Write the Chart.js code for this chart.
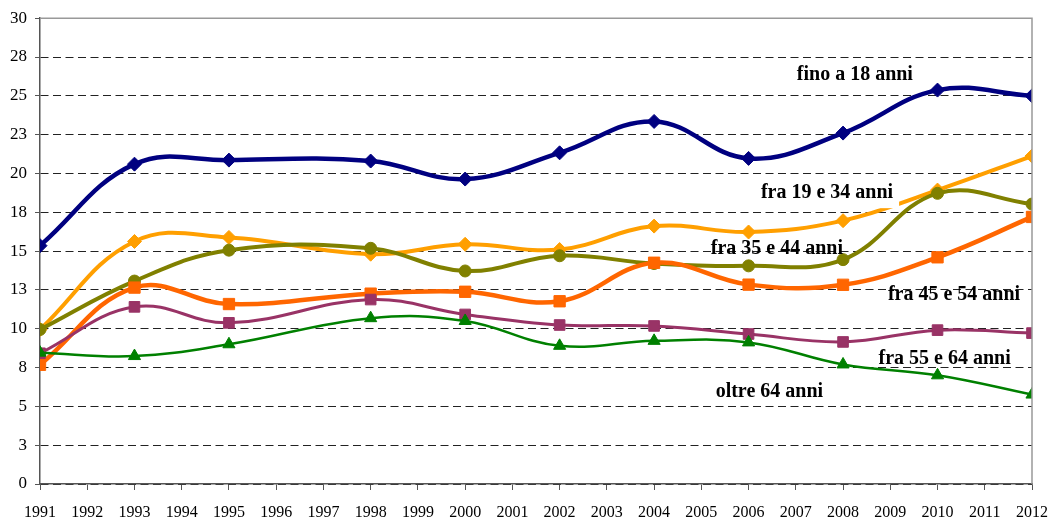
<!DOCTYPE html>
<html>
<head>
<meta charset="utf-8">
<script src="https://cdn.jsdelivr.net/npm/chart.js@4/dist/chart.umd.min.js"></script>
<style>
  html, body { margin: 0; padding: 0; background: #fff; }
  canvas { display: block; }
</style>
</head>
<body>
<canvas id="c" width="1049" height="519"></canvas>
<script>
// ---- data ----
const years = [1991, 1993, 1995, 1998, 2000, 2002, 2004, 2006, 2008, 2010, 2012];
const fino18   = [15.35, 20.6, 20.86, 20.8, 19.64, 21.33, 23.35, 20.97, 22.6, 25.37, 25.0];
const fra19_34 = [9.95, 15.62, 15.88, 14.8, 15.44, 15.1, 16.61, 16.23, 16.96, 18.93, 21.12];
const fra35_44 = [9.95, 13.07, 15.06, 15.18, 13.72, 14.7, 14.2, 14.05, 14.45, 18.72, 18.03];
const fra45_54 = [7.68, 12.65, 11.59, 12.26, 12.38, 11.77, 14.25, 12.84, 12.83, 14.6, 17.2];
const fra55_64 = [8.42, 11.41, 10.38, 11.88, 10.92, 10.24, 10.18, 9.66, 9.15, 9.91, 9.72];
const oltre64  = [8.46, 8.24, 9.0, 10.68, 10.5, 8.9, 9.22, 9.12, 7.7, 7.0, 5.76];

const seriesNames = ["fino a 18 anni", "fra 19 e 34 anni", "fra 35 e 44 anni",
                     "fra 45 e 54 anni", "fra 55 e 64 anni", "oltre 64 anni"];
// label anchor positions in data units (year, value)
const labelYears  = [2008.25, 2007.66, 2006.6, 2010.35, 2010.15, 2006.44];
const labelValues = [26.33, 18.73, 15.13, 12.17, 8.05, 5.92];
const labelWhiteBox = [false, true, false, false, false, false];

const yMin = 0, yMax = 30, yStep = 2.5;
const xMin = 1991, xMax = 2012;

// ---- styles ----
const styles = [
  { color: '#000080', width: 4.5, point: 'rectRot', radius: 7 },
  { color: '#FF9F00', width: 4,   point: 'rectRot', radius: 7 },
  { color: '#808000', width: 4,   point: 'circle',  radius: 6 },
  { color: '#FF6600', width: 4.5, point: 'rect',    radius: 8 },
  { color: '#993366', width: 3,   point: 'rect',    radius: 7.5 },
  { color: '#008000', width: 2.5, point: 'triangle',radius: 7 }
];
const allValues = [fino18, fra19_34, fra35_44, fra45_54, fra55_64, oltre64];

const datasets = allValues.map((vals, i) => ({
  label: seriesNames[i],
  data: years.map((x, j) => ({ x: x, y: vals[j] })),
  borderColor: styles[i].color,
  backgroundColor: styles[i].color,
  pointBackgroundColor: styles[i].color,
  pointBorderColor: styles[i].color,
  pointBorderWidth: 1,
  borderWidth: styles[i].width,
  pointStyle: styles[i].point,
  pointRadius: styles[i].radius,
  tension: 0.4,
  fill: false
})).reverse();

const SERIF = '"Liberation Serif", "Times New Roman", "DejaVu Serif", serif';

const overlay = {
  id: 'overlay',
  afterDatasetsDraw(chart) {
    const ctx = chart.ctx;
    const xs = chart.scales.x, ys = chart.scales.y;
    ctx.save();
    ctx.font = 'bold 20px ' + SERIF;
    ctx.textAlign = 'center';
    ctx.textBaseline = 'middle';
    seriesNames.forEach((name, i) => {
      const px = xs.getPixelForValue(labelYears[i]);
      const py = ys.getPixelForValue(labelValues[i]);
      if (labelWhiteBox[i]) {
        const w = ctx.measureText(name).width + 12;
        ctx.fillStyle = '#fff';
        ctx.fillRect(px - w / 2, py - 13, w, 28);
      }
      ctx.fillStyle = '#000';
      ctx.fillText(name, px, py);
    });
    ctx.restore();
  },
  afterDraw(chart) {
    const ctx = chart.ctx;
    const a = chart.chartArea;
    ctx.save();
    ctx.strokeStyle = '#999';
    ctx.lineWidth = 1.5;
    ctx.beginPath();
    ctx.moveTo(a.left, a.top);
    ctx.lineTo(a.right, a.top);
    ctx.lineTo(a.right, a.bottom);
    ctx.stroke();
    ctx.restore();
  }
};

new Chart(document.getElementById('c'), {
  type: 'line',
  data: { datasets: datasets },
  plugins: [overlay],
  options: {
    responsive: false,
    animation: false,
    layout: { padding: { top: 18, right: 17, left: 0, bottom: 0 } },
    plugins: { legend: { display: false }, tooltip: { enabled: false } },
    scales: {
      x: {
        type: 'linear',
        min: xMin, max: xMax,
        afterFit: s => { s.height = 35; s.paddingLeft = 0; s.paddingRight = 0; },
        ticks: {
          stepSize: 1, autoSkip: false, maxRotation: 0, padding: 13,
          color: '#000',
          font: { family: SERIF, size: 16 },
          callback: v => String(v)
        },
        grid: { drawOnChartArea: false, drawTicks: true, tickLength: 6, color: '#555', lineWidth: 1 },
        border: { color: '#555', width: 1.5 }
      },
      y: {
        min: yMin, max: yMax,
        afterFit: s => { s.width = 40; },
        ticks: {
          stepSize: yStep, padding: 8, color: '#000',
          font: { family: SERIF, size: 17 },
          callback: v => String(Math.round(v))
        },
        grid: { color: '#222', lineWidth: 1, tickLength: 5, tickColor: '#555', tickBorderDash: [] },
        border: { color: '#555', width: 1.5, dash: [8, 4.5] }
      }
    }
  }
});
</script>
</body>
</html>
